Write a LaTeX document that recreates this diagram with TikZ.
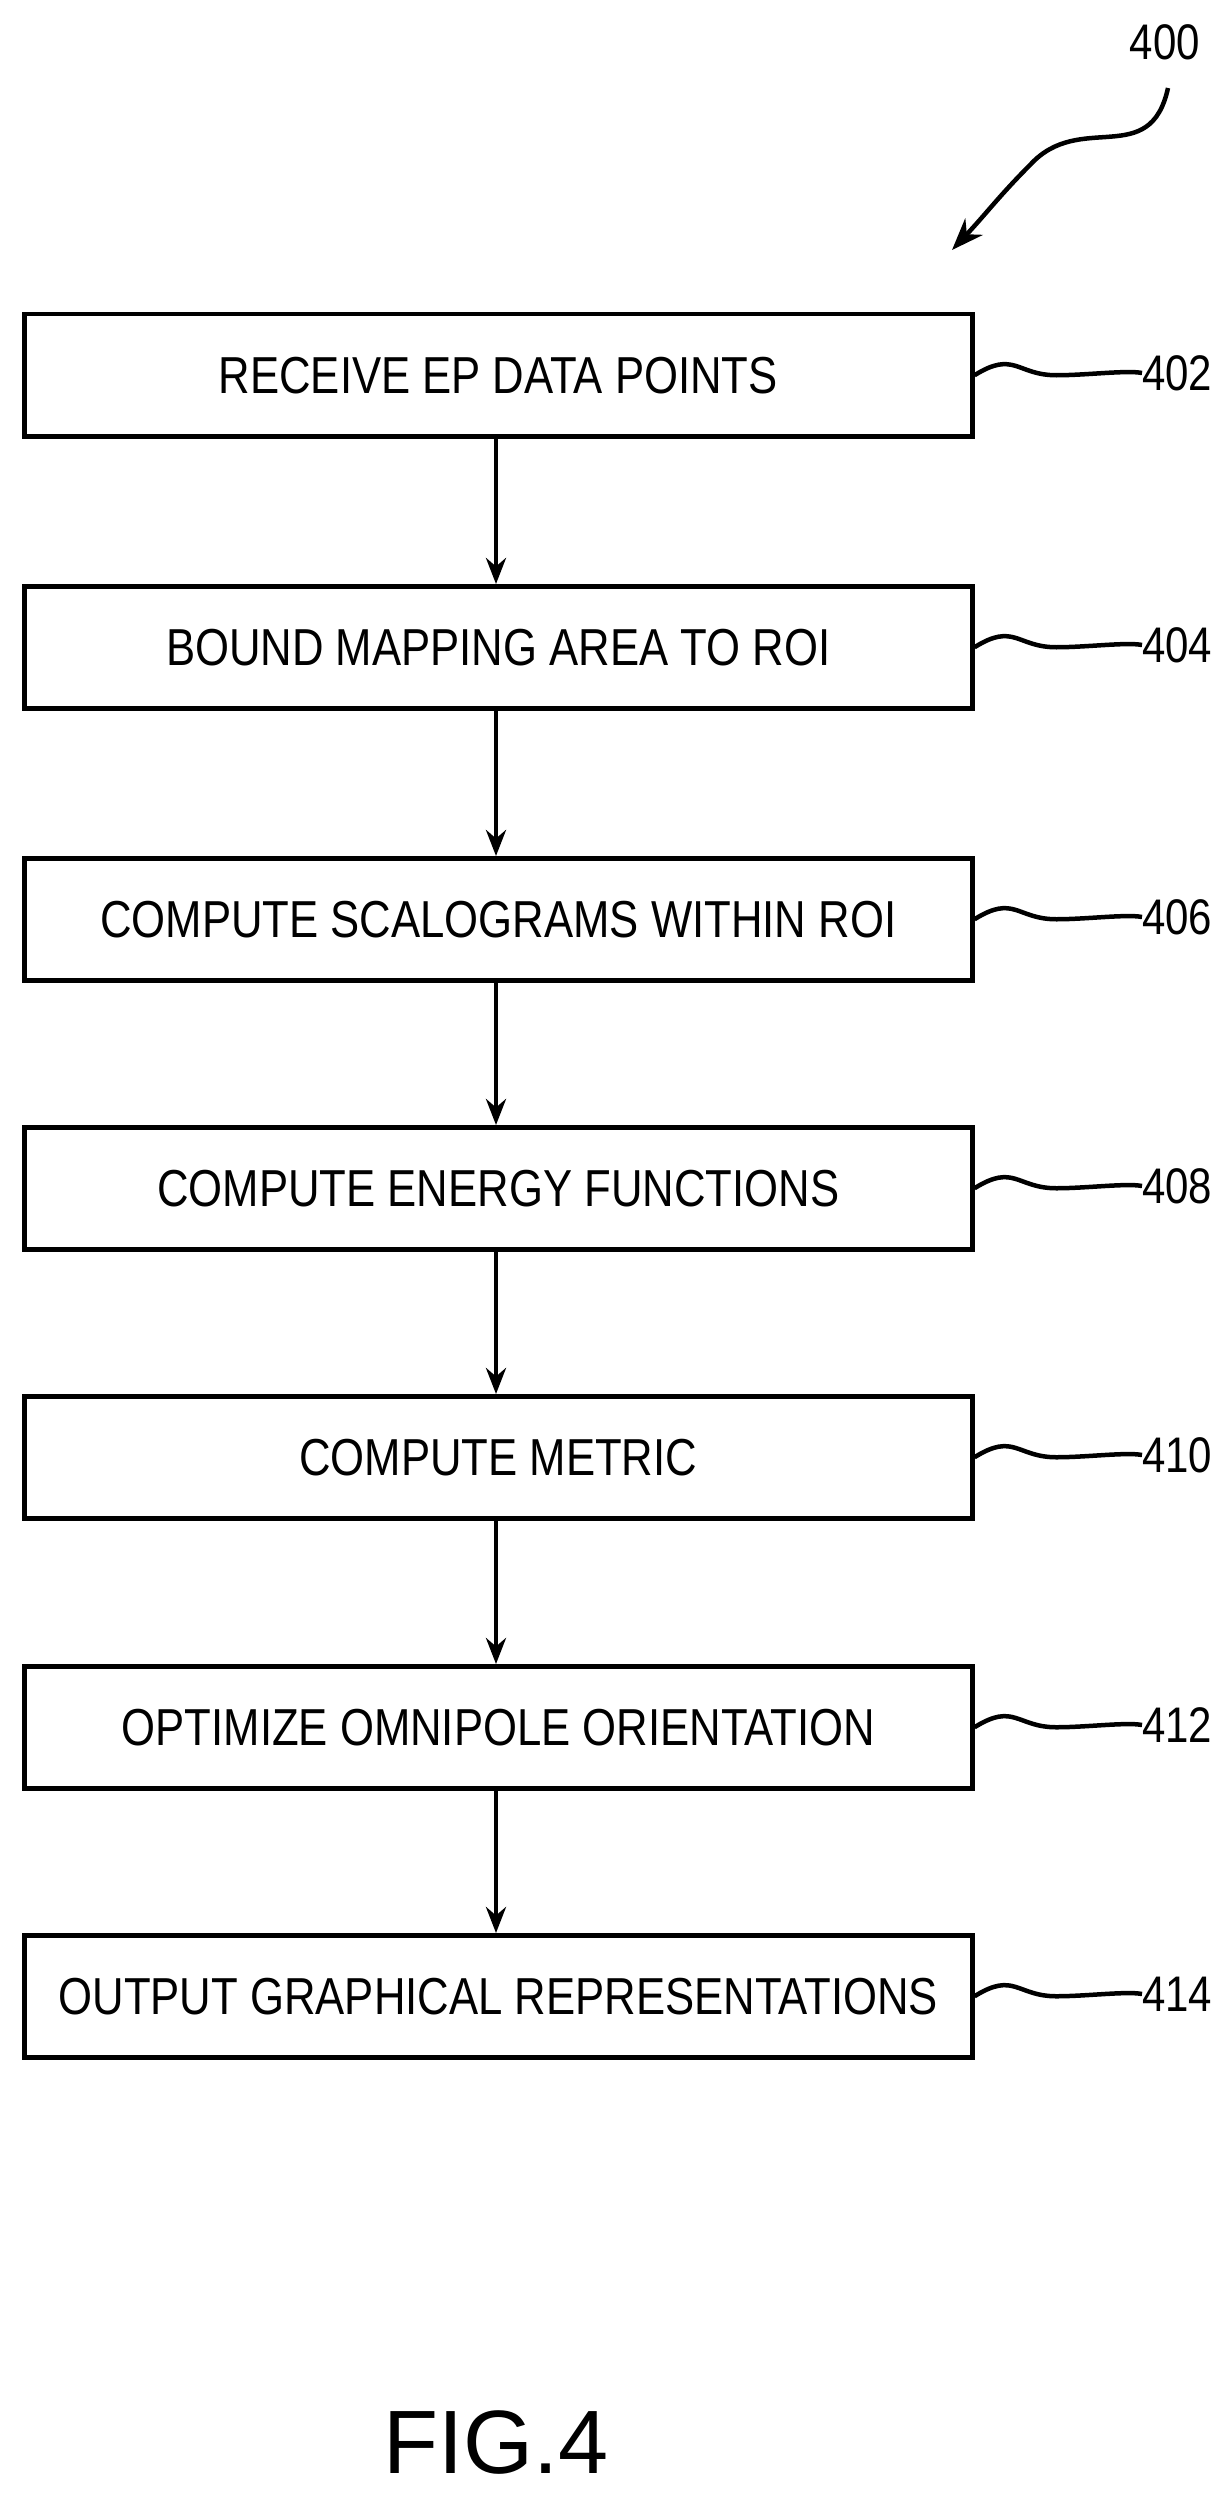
\documentclass[tikz,border=0pt]{standalone}
\usepackage{fontspec}
\setmainfont{Liberation Sans}[FakeStretch=0.84]
\newfontfamily\figfont{Liberation Sans}
\usetikzlibrary{arrows.meta}
\begin{document}
\begin{tikzpicture}[x=1pt,y=-1pt,
 box/.style={draw,line width=4.5pt,minimum width=948pt,minimum height=122pt,inner sep=0pt,font=\fontsize{52}{56}\selectfont},
 arr/.style={line width=4.5pt,-{Stealth[length=26pt,width=20pt]}},
 lab/.style={font=\fontsize{50}{54}\selectfont,anchor=west,inner sep=0pt},
 sq/.style={line width=4.5pt}]
\useasboundingbox (0,0) rectangle (1231,2496);
\foreach \i/\y/\t/\n in {1/312/RECEIVE EP DATA POINTS/402,2/584/BOUND MAPPING AREA TO ROI/404,3/856/COMPUTE SCALOGRAMS WITHIN ROI/406,4/1125/COMPUTE ENERGY FUNCTIONS/408,5/1394/COMPUTE METRIC/410,6/1664/OPTIMIZE OMNIPOLE ORIENTATION/412,7/1933/OUTPUT GRAPHICAL REPRESENTATIONS/414}{
 \node[box,anchor=north west] (b\i) at (22,\y) {\t};
 \node[lab] (l\i) at (1142,\y+61) {\n};
 \draw[sq] (b\i.east) .. controls +(40,-25) and +(-40,0) .. ++(82,0) .. controls +(30,0) and +(-15,-3) .. (l\i.west);
}
\foreach \a/\b in {1/2,2/3,3/4,4/5,5/6,6/7}{\draw[arr] (b\a.south -| 496,0) -- (b\b.north -| 496,0);}
\node[font=\fontsize{50}{54}\selectfont] (n400) at (1165,42) {400};
\coordinate (s0) at (1168,88);
\coordinate (s1) at (952,250);
\draw[line width=4.5pt,-{Stealth[length=32pt,width=24pt]}] (s0) .. controls (1150,170) and (1080,110) .. (1030,165) .. controls (1000,195) and (985,215) .. (s1);
\node[font=\figfont\fontsize{90}{94}\selectfont] (fig) at (496,2442) {FIG.4};
\end{tikzpicture}
\end{document}
